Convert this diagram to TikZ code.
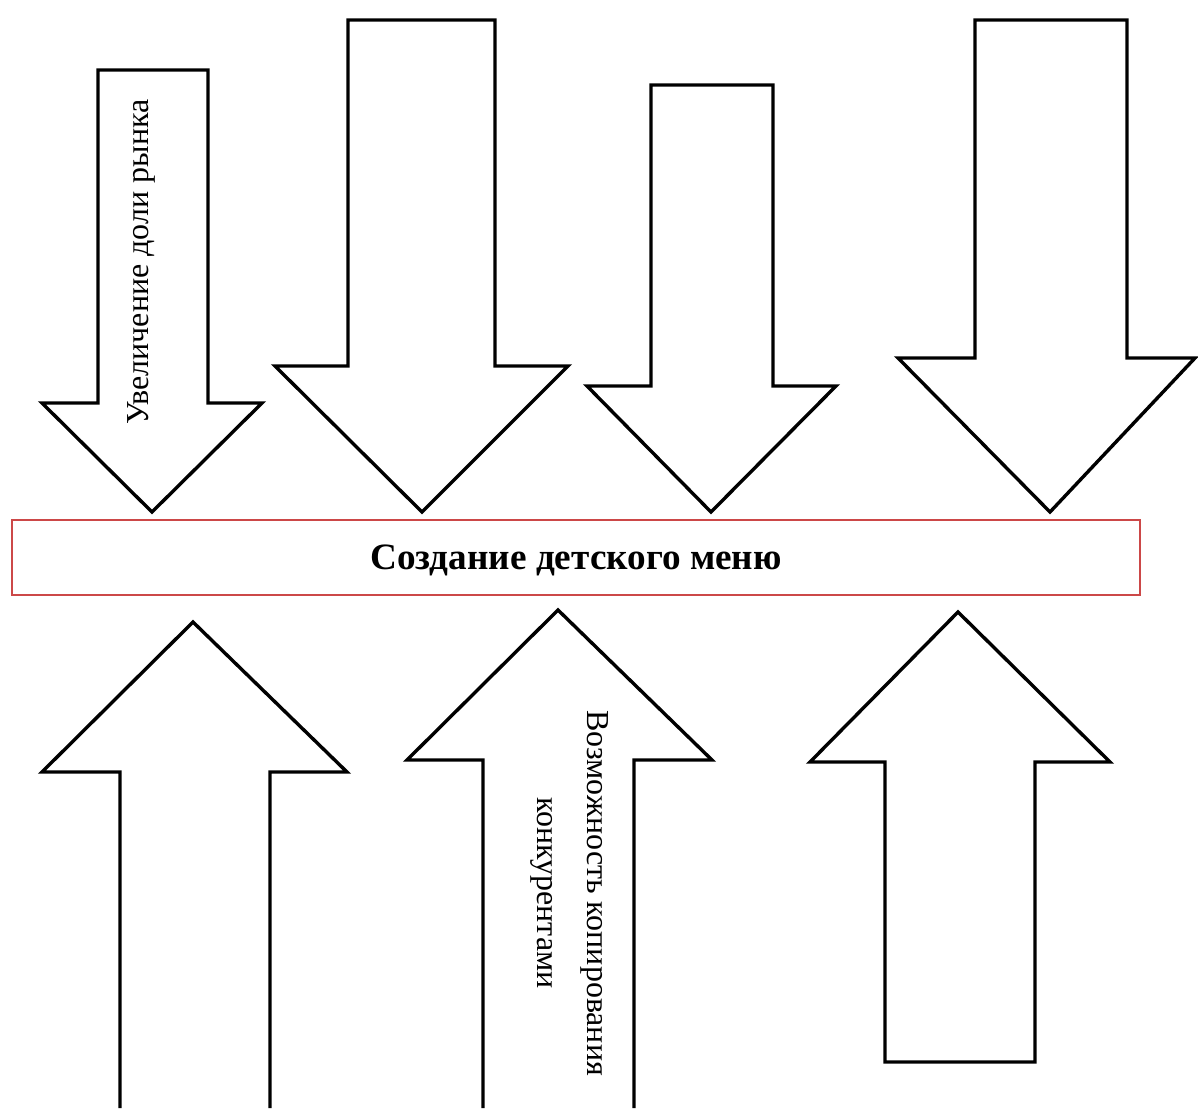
\documentclass[tikz,border=0pt]{standalone}
\usepackage{fontspec}
\setmainfont{Liberation Serif}
\definecolor{boxred}{RGB}{204,72,72}
\tikzset{
  blockarrow/.style={draw=black, line width=1.7pt, line join=miter, fill=white},
  menubox/.style={draw=boxred, line width=1.1pt, fill=white,
    minimum width=564pt, minimum height=37.5pt, inner sep=0pt, text depth=0pt,
    font=\fontsize{18.6}{21}\selectfont\bfseries},
  arrowtext/.style={font=\fontsize{16}{25}\selectfont, align=center, inner sep=0pt}
}
\begin{document}
\begin{tikzpicture}[x=0.5pt,y=-0.5pt]
\useasboundingbox (0,0) rectangle (1198,1108);

% arrows pointing down onto the box
\draw[blockarrow] (98,70) -- (208,70) -- (208,403) -- (262,403) -- (152,512) -- (42,403) -- (98,403) -- cycle;
\draw[blockarrow] (348,20) -- (495,20) -- (495,366) -- (568,366) -- (422,512) -- (275,366) -- (348,366) -- cycle;
\draw[blockarrow] (651,85) -- (773,85) -- (773,386) -- (836,386) -- (711,512) -- (587,386) -- (651,386) -- cycle;
\draw[blockarrow] (975,20) -- (1127,20) -- (1127,358) -- (1195,358) -- (1050,512) -- (898,358) -- (975,358) -- cycle;

% arrows pointing up at the box
\draw[blockarrow] (120,1108) -- (120,772) -- (42,772) -- (193,622) -- (347,772) -- (270,772) -- (270,1108);
\draw[blockarrow] (483,1108) -- (483,760) -- (407,760) -- (558,610) -- (712,760) -- (634,760) -- (634,1108);
\draw[blockarrow] (885,1062) -- (885,762) -- (810,762) -- (958,612) -- (1110,762) -- (1035,762) -- (1035,1062) -- cycle;

% box in the middle
\node[menubox] (menu) at (576,557.5) {Создание детского меню};

% texts on the arrows
\node[arrowtext, rotate=90] (share) at (141,262) {Увеличение доли рынка};
\node[arrowtext, rotate=-90] (copy) at (570,893) {Возможность копирования\\конкурентами};

\end{tikzpicture}
\end{document}
